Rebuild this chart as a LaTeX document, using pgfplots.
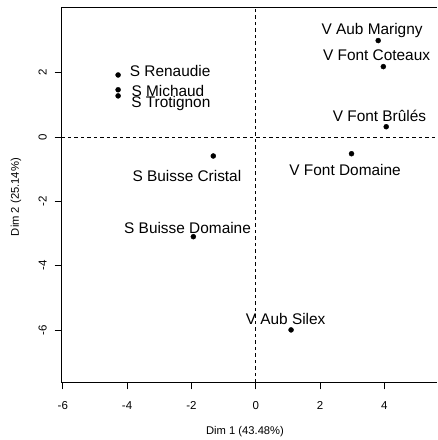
\documentclass[border=0pt]{standalone}
\usepackage{pgfplots}
\pgfplotsset{compat=1.18}
\usepackage{fontspec}
\setmainfont{Liberation Sans}
\begin{document}
\begin{tikzpicture}
\useasboundingbox (-61.3bp,-57.3bp) rectangle (376.7bp,382.7bp);
\begin{axis}[at={(0,0)}, anchor=south west, scale only axis,
  width=375.7bp, height=375.7bp,
  xmin=-6.047, xmax=5.639, ymin=-7.642, ymax=4.044,
  axis lines*=left,
  axis line style={black, line width=0.8bp, -},
  xtick={-6,-4,-2,0,2,4}, ytick={-6,-4,-2,0,2},
  tick align=outside, major tick length=6.7bp,
  tick style={black, line width=0.8bp},
  xticklabel={\fontsize{11.5bp}{13bp}\selectfont\pgfmathprintnumber[assume math mode=true]{\tick}},
  yticklabel={\fontsize{11.5bp}{13bp}\selectfont\pgfmathprintnumber[assume math mode=true]{\tick}},
  xticklabel style={anchor=center},
  xticklabel shift=16bp,
  yticklabel style={rotate=90, anchor=center},
  yticklabel shift=12bp,
  xlabel={Dim 1 (43.48\%)}, ylabel={Dim 2 (25.14\%)},
  label style={font=\fontsize{11.2bp}{13bp}\selectfont},
  xlabel style={at={(axis description cs:0.489,-0.131)}, anchor=center},
  ylabel style={at={(axis description cs:-0.1206,0.494)}, anchor=center, rotate=0},
  clip=false,
]
\draw[black, line width=0.8bp] (rel axis cs:0,1) -- (rel axis cs:1,1);
\draw[black, line width=0.6bp, dash pattern=on 3.5bp off 3bp] (axis cs:0,-7.642) -- (axis cs:0,4.044);
\draw[black, line width=0.6bp, dash pattern=on 3.5bp off 3bp] (axis cs:-6.047,0) -- (axis cs:5.639,0);
\addplot[only marks, mark=*, mark size=2.5bp, black] coordinates {
 (-4.28,1.93) (-4.28,1.47) (-4.28,1.28) (-1.32,-0.59) (-1.94,-3.10)
 (1.10,-6.00) (3.81,3.00) (3.97,2.19) (4.06,0.32) (2.98,-0.52)
};
\begin{scope}[every node/.style={font=\fontsize{15.4bp}{18bp}\selectfont, inner sep=0pt, anchor=base}]
\node at (axis cs:-2.66,1.888) {S Renaudie};
\node at (axis cs:-2.73,1.275) {S Michaud};
\node at (axis cs:-2.64,0.924) {S Trotignon};
\node at (axis cs:-2.14,-1.39) {S Buisse Cristal};
\node at (axis cs:-2.12,-2.986) {S Buisse Domaine};
\node at (axis cs:3.62,3.19) {V Aub Marigny};
\node at (axis cs:3.76,2.386) {V Font Coteaux};
\node at (axis cs:3.85,0.498) {V Font Brûlés};
\node at (axis cs:2.78,-1.204) {V Font Domaine};
\node at (axis cs:0.93,-5.826) {V Aub Silex};
\end{scope}
\end{axis}
\end{tikzpicture}
\end{document}
